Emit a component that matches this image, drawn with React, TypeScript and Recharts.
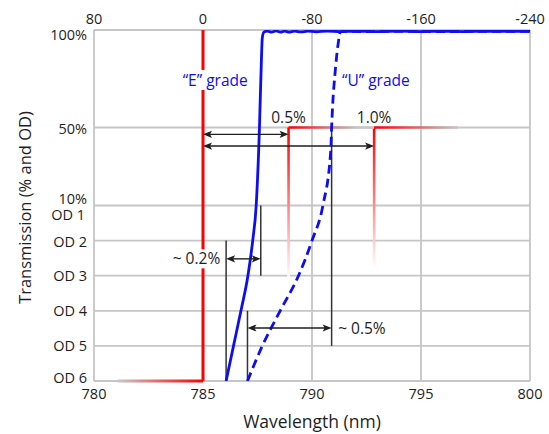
import React from "react";
import {
  ComposedChart,
  Line,
  XAxis,
  YAxis,
  CartesianGrid,
  ReferenceLine,
  ReferenceDot,
  Label,
} from "recharts";

const FONT = "'Open Sans', 'Noto Sans', sans-serif";

// ---------- data ----------
// bottom axis: wavelength (nm)
const xTicks = [780, 785, 790, 795, 800];
// top axis: wavenumber shift (cm-1) labels for the same positions
const topTickLabels = ["80", "0", "-80", "-160", "-240"];

// y axis ticks as transmission (%)
const yTickT = [0.0001, 0.001, 0.01, 0.1, 1, 10, 50, 100];
const yTickLabels = ["OD 6", "OD 5", "OD 4", "OD 3", "OD 2", "10%\nOD 1", "50%", "100%"];

// "E" grade edge (solid blue)
const eGradeWl = [
  786.06, 786.4, 786.74, 787.06, 787.28, 787.44, 787.59, 787.68, 787.72, 787.8,
  787.95, 788.15, 788.35, 788.55, 788.75, 788.95, 789.2, 789.5, 789.8, 790.2,
  790.7, 791.3, 792, 793, 794, 795, 796, 797, 798, 799, 800,
];
const eGradeT = [
  0.0001, 0.001, 0.01, 0.1, 1, 10, 50, 85, 96, 99.0,
  99.4, 98.9, 99.5, 98.9, 99.4, 98.9, 99.4, 99.0, 99.4, 99.1,
  99.4, 99.2, 99.3, 99.2, 99.4, 99.2, 99.3, 99.2, 99.3, 99.3, 99.3,
];

// "U" grade edge (dashed blue)
const uGradeWl = [
  787.04, 787.72, 788.54, 789.38, 790.0, 790.5, 790.86, 790.9, 790.95, 791.05,
  791.2, 791.3, 791.5, 792.5, 794, 796, 798, 800,
];
const uGradeT = [
  0.0001, 0.001, 0.01, 0.1, 1, 10, 38, 50, 62, 77,
  93, 99.0, 99.3, 99.2, 99.3, 99.2, 99.3, 99.3,
];

// laser line and tolerance steps (nm)
const laserWl = 785;
const laserTailWl = 781.1;
const step05Wl = 788.925;
const step10Wl = 792.85;
const stepTailWl = 796.7;

// edge markers (nm)
const eEdgeOD6Wl = 786.06;
const eEdgeOD3Wl = 787.65;
const uEdgeOD6Wl = 787.04;
const uEdgeOD5Wl = 790.9;

// ---------- scale helper: linear % above 10 %, OD below ----------
const toY = (t: number) => (t >= 10 ? 5 + (t - 10) / 18 : 4 + Math.log10(t));
const od = (n: number) => 6 - n;

const yTicks = yTickT.map(toY);
const yTickDy = [1.5, 5.5, 5.5, 5.5, 6, -1.5, 6.5, 10];

const eData = eGradeWl.map((x, i) => ({ x, y: toY(eGradeT[i]) }));
const uData = uGradeWl.map((x, i) => ({ x, y: toY(uGradeT[i]) }));

const BLUE = "#0c0cf5";
const RED = "#ff0000";
const GRID = "#c6c6c6";
const INK = "#1e1e1e";
const FS = 14.5;
const LFS = 15.5;

// ---------- shapes ----------
let gid = 0;
const gradLine = (from: string, to: string, width: number, endStop = 1) => {
  const id = `g${gid++}`;
  return (p: any) => (
    <g>
      <defs>
        <linearGradient id={id} gradientUnits="userSpaceOnUse" x1={p.x1} y1={p.y1} x2={p.x2} y2={p.y2}>
          <stop offset={0} stopColor={from} />
          <stop offset={endStop} stopColor={to} />
        </linearGradient>
      </defs>
      <line x1={p.x1} y1={p.y1} x2={p.x2} y2={p.y2} stroke={`url(#${id})`} strokeWidth={width} />
    </g>
  );
};

const arrowShape = (p: any) => {
  const left = Math.min(p.x1, p.x2);
  const right = Math.max(p.x1, p.x2);
  const y = p.y1;
  const L = 9;
  const W = 3.6;
  return (
    <g>
      <line x1={left + 4} y1={y} x2={right - 4} y2={y} stroke={INK} strokeWidth={1.4} />
      <polygon points={`${left},${y} ${left + L},${y - W} ${left + L - 2},${y} ${left + L},${y + W}`} fill={INK} />
      <polygon points={`${right},${y} ${right - L},${y - W} ${right - L + 2},${y} ${right - L},${y + W}`} fill={INK} />
    </g>
  );
};

const textShape =
  (text: string, color: string, anchor: "start" | "middle" | "end", bg?: { w: number; h: number; dx: number }) =>
  (p: any) => (
    <g>
      {bg ? <rect x={p.cx + bg.dx} y={p.cy - bg.h / 2} width={bg.w} height={bg.h} fill="#ffffff" /> : null}
      <text x={p.cx} y={p.cy} dy="0.36em" textAnchor={anchor} fill={color} fontFamily={FONT} fontSize={LFS}>
        {text}
      </text>
    </g>
  );

const BottomTick = (p: any) => (
  <text x={p.x} y={p.y + 18} textAnchor="middle" fill={INK} fontFamily={FONT} fontSize={FS}>
    {p.payload.value}
  </text>
);

const TopTick = (p: any) => {
  const i = xTicks.indexOf(p.payload.value);
  return (
    <text x={p.x} y={p.y - 6} textAnchor="middle" fill={INK} fontFamily={FONT} fontSize={FS}>
      {topTickLabels[i]}
    </text>
  );
};

const LeftTick = (p: any) => {
  const i = yTicks.findIndex((v) => Math.abs(v - p.payload.value) < 1e-6);
  if (i < 0) return null;
  const lines = yTickLabels[i].split("\n");
  return (
    <g>
      <text x={p.x - 7} y={p.y + yTickDy[i]} textAnchor="end" fill={INK} fontFamily={FONT} fontSize={FS}>
        {lines[0]}
      </text>
      {lines[1] ? (
        <text x={p.x - 9} y={p.y + 14} textAnchor="end" fill={INK} fontFamily={FONT} fontSize={FS}>
          {lines[1]}
        </text>
      ) : null}
    </g>
  );
};

const XTitle = (p: any) => {
  const vb = p.viewBox;
  return (
    <text x={vb.x + vb.width / 2} y={vb.y + 46.5} textAnchor="middle" fill={INK} fontFamily={FONT} fontSize={17.5}>
      Wavelength (nm)
    </text>
  );
};

const YTitle = (p: any) => {
  const vb = p.viewBox;
  const cx = vb.x + 25;
  const cy = vb.y + vb.height / 2 + 2;
  return (
    <text
      x={cx}
      y={cy}
      dy="0.36em"
      transform={`rotate(-90 ${cx} ${cy})`}
      textAnchor="middle"
      fill={INK}
      fontFamily={FONT}
      fontSize={16.5}
    >
      Transmission (% and OD)
    </text>
  );
};

const redTail = gradLine("#c8c8c8", RED, 3);
const fade05 = gradLine(RED, "#ffffff", 2.6);
const fade10 = gradLine(RED, "#ffffff", 2.6);
const h05 = gradLine(RED, GRID, 2.6, 0.8);
const h10 = gradLine(RED, GRID, 2.6, 1);

const blackV = (p: any) => <line x1={p.x1} y1={p.y1} x2={p.x2} y2={p.y2} stroke="#333333" strokeWidth={1.5} />;

export default function App() {
  return (
    <div style={{ position: "absolute", left: 0, top: 0 }}>
      <ComposedChart width={549} height={434} margin={{ top: 0, right: 19, bottom: 0, left: 0 }}>
        <CartesianGrid xAxisId="bottom" stroke={GRID} strokeWidth={1.8} />
        <XAxis
          xAxisId="bottom"
          dataKey="x"
          type="number"
          domain={[780, 800]}
          ticks={xTicks}
          allowDataOverflow
          height={53}
          axisLine={false}
          tickLine={false}
          tickSize={0}
          tickMargin={0}
          tick={<BottomTick />}
          interval={0}
        >
          <Label content={<XTitle />} />
        </XAxis>
        <XAxis
          xAxisId="top"
          orientation="top"
          dataKey="x"
          type="number"
          domain={[780, 800]}
          ticks={xTicks}
          allowDataOverflow
          height={30}
          axisLine={false}
          tickLine={false}
          tickSize={0}
          tickMargin={0}
          tick={<TopTick />}
          interval={0}
        />
        <YAxis
          type="number"
          domain={[0, 10]}
          ticks={yTicks}
          allowDataOverflow
          width={94}
          axisLine={false}
          tickLine={false}
          tickSize={0}
          tickMargin={0}
          tick={<LeftTick />}
          interval={0}
        >
          <Label content={<YTitle />} />
        </YAxis>

        {/* laser line */}
        <ReferenceLine xAxisId="bottom" segment={[{ x: laserTailWl, y: 0 }, { x: laserWl, y: 0 }]} shape={redTail} />
        <ReferenceLine
          xAxisId="bottom"
          segment={[{ x: laserWl, y: 0 }, { x: laserWl, y: 10 }]}
          stroke={RED}
          strokeWidth={3}
        />
        {/* tolerance steps */}
        <ReferenceLine xAxisId="bottom" segment={[{ x: step05Wl, y: toY(50) }, { x: step05Wl, y: od(3.1) }]} shape={fade05} />
        <ReferenceLine xAxisId="bottom" segment={[{ x: step10Wl, y: toY(50) }, { x: step10Wl, y: od(2.8) }]} shape={fade10} />
        <ReferenceLine xAxisId="bottom" segment={[{ x: step05Wl, y: toY(50) }, { x: step10Wl, y: toY(50) }]} shape={h05} />
        <ReferenceLine xAxisId="bottom" segment={[{ x: step10Wl, y: toY(50) }, { x: stepTailWl, y: toY(50) }]} shape={h10} />

        {/* edge markers */}
        <ReferenceLine xAxisId="bottom" segment={[{ x: eEdgeOD6Wl, y: od(2) }, { x: eEdgeOD6Wl, y: od(6) }]} shape={blackV} />
        <ReferenceLine xAxisId="bottom" segment={[{ x: eEdgeOD3Wl, y: od(1) }, { x: eEdgeOD3Wl, y: od(3) }]} shape={blackV} />
        <ReferenceLine xAxisId="bottom" segment={[{ x: uEdgeOD6Wl, y: od(4) }, { x: uEdgeOD6Wl, y: od(6) }]} shape={blackV} />
        <ReferenceLine xAxisId="bottom" segment={[{ x: uEdgeOD5Wl, y: toY(50) }, { x: uEdgeOD5Wl, y: od(5) }]} shape={blackV} />

        <Line
          xAxisId="bottom"
          data={uData}
          dataKey="y"
          type="monotone"
          stroke={BLUE}
          strokeWidth={2.8}
          strokeDasharray="9 5"
          dot={false}
          isAnimationActive={false}
        />
        <Line
          xAxisId="bottom"
          data={eData}
          dataKey="y"
          type="monotone"
          stroke={BLUE}
          strokeWidth={2.8}
          dot={false}
          isAnimationActive={false}
        />

        {/* arrows */}
        <ReferenceLine xAxisId="bottom" segment={[{ x: laserWl, y: toY(46.5) }, { x: step05Wl, y: toY(46.5) }]} shape={arrowShape} />
        <ReferenceLine xAxisId="bottom" segment={[{ x: laserWl, y: toY(40.5) }, { x: step10Wl, y: toY(40.5) }]} shape={arrowShape} />
        <ReferenceLine xAxisId="bottom" segment={[{ x: eEdgeOD6Wl, y: od(2.52) }, { x: eEdgeOD3Wl, y: od(2.52) }]} shape={arrowShape} />
        <ReferenceLine xAxisId="bottom" segment={[{ x: uEdgeOD6Wl, y: od(4.49) }, { x: uEdgeOD5Wl, y: od(4.49) }]} shape={arrowShape} />

        {/* labels */}
        <ReferenceDot xAxisId="bottom" x={785.56} y={toY(74.4)} r={0} shape={textShape("\u201CE\u201D grade", BLUE, "middle", { w: 78, h: 20, dx: -39 })} />
        <ReferenceDot xAxisId="bottom" x={792.93} y={toY(74.4)} r={0} shape={textShape("\u201CU\u201D grade", BLUE, "middle")} />
        <ReferenceDot xAxisId="bottom" x={step05Wl} y={toY(55.4)} r={0} shape={textShape("0.5%", INK, "middle")} />
        <ReferenceDot xAxisId="bottom" x={step10Wl} y={toY(55.4)} r={0} shape={textShape("1.0%", INK, "middle")} />
        <ReferenceDot xAxisId="bottom" x={785.79} y={od(2.52)} r={0} shape={textShape("~ 0.2%", INK, "end", { w: 60, h: 19, dx: -58 })} />
        <ReferenceDot xAxisId="bottom" x={791.2} y={od(4.49)} r={0} shape={textShape("~ 0.5%", INK, "start")} />
      </ComposedChart>
    </div>
  );
}
